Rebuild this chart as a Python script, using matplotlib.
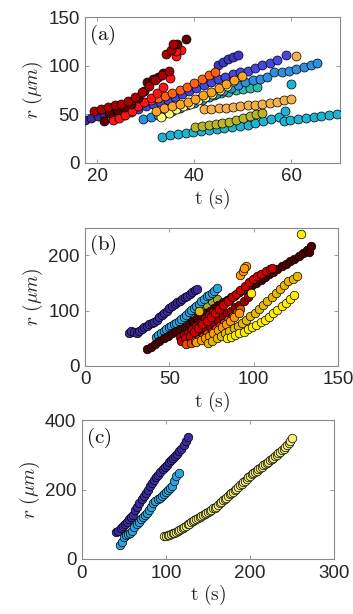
import matplotlib
matplotlib.use("Agg")
import matplotlib.pyplot as plt

plt.rcParams['font.family'] = ['Liberation Sans', 'DejaVu Sans']
plt.rcParams['mathtext.fontset'] = 'cm'

# ---------------- panel (a) ----------------
a_cyan_t = [33.4, 35.0, 36.6, 38.2, 39.8, 41.4, 43.0, 44.6, 46.2, 47.8, 49.4, 51.0, 52.6, 54.2, 55.8, 57.4,
            58.4, 59.8, 61.4, 63.0, 64.6, 66.2, 67.8, 69.4, 58.7, 60.0]
a_cyan_r = [27, 29, 30, 31, 32, 33, 34, 35, 36, 37, 38, 39, 41, 43, 45, 47,
            43, 44, 45, 46, 47, 48, 49, 50, 53, 81]
a_olive_t = [40.2, 41.6, 43.0, 44.4, 45.8, 47.2, 48.6, 50.0, 51.4, 52.8, 54.0]
a_olive_r = [37, 38, 39, 40, 41, 42, 44, 46, 48, 50, 51]
a_lorange_t = [42.0, 43.5, 45.0, 46.5, 48.0, 49.5, 51.0, 52.5, 54.0, 55.5, 57.0, 58.5, 60.0, 61.0]
a_lorange_r = [55, 55, 56, 56, 57, 58, 59, 60, 61, 62, 63, 65, 66, 110]
a_teal_t = [39.5, 41.0, 42.5, 44.0, 45.5, 47.0, 48.5, 50.0, 51.5, 53.0]
a_teal_r = [63, 66, 68, 70, 72, 73, 75, 76, 77, 78]
a_mblue_t = [29.5, 31.0, 32.5, 34.0, 35.5, 37.0, 38.5, 40.0, 41.5, 43.0, 44.5, 46.0, 47.5, 49.0, 50.5, 52.0,
             53.5, 55.0, 56.5, 58.0, 59.5, 61.0, 62.5, 64.0, 65.2]
a_mblue_r = [45, 47, 49, 51, 53, 56, 59, 62, 65, 68, 71, 74, 77, 80, 83, 85,
             86, 88, 93, 94, 95, 97, 99, 101, 103]
a_indigo_t = [17.5, 18.8, 20.1, 21.4, 22.7, 24.0, 25.3]
a_indigo_r = [44, 46, 48, 50, 52, 54, 56]
a_blue_t = [24.0, 25.5, 27.0, 28.5, 30.0, 31.5, 33.0, 34.5, 36.0, 37.5, 39.0, 40.4, 42.0, 43.5, 44.9, 46.4,
            47.9, 49.4, 51.0, 52.5, 54.0, 55.5, 57.0, 58.8]
a_blue_r = [46, 49, 52, 55, 58, 61, 63, 65, 68, 71, 74, 77, 80, 83, 86, 88,
            91, 93, 95, 98, 101, 103, 106, 111]
a_dblue_t = [44.9, 45.9, 46.9, 47.9, 48.9]
a_dblue_r = [101, 104, 107, 109, 111]
a_yellow_t = [33.2, 34.7, 36.2, 37.7, 39.2, 40.7, 42.2, 43.7, 45.2, 46.7, 48.0]
a_yellow_r = [47, 51, 55, 58, 61, 65, 68, 71, 75, 79, 84]
a_orange_t = [32.2, 33.8, 35.4, 37.0, 38.6, 40.2, 41.8, 43.4, 45.0, 46.6, 48.2, 49.8]
a_orange_r = [53, 56, 58, 61, 63, 66, 70, 73, 77, 81, 85, 89]
a_ored_t = [25.0, 26.5, 28.0, 29.5, 31.0, 32.5, 34.0, 35.5, 37.0, 38.5, 40.0, 41.5, 43.0, 44.2]
a_ored_r = [52, 56, 60, 63, 65, 67, 69, 72, 75, 78, 82, 86, 90, 93]
a_red_t = [23.2, 24.5, 25.8, 27.1, 28.4, 29.7, 31.0, 32.3, 33.6, 35.0, 36.3, 37.3, 36.3]
a_red_r = [44, 46, 49, 53, 58, 63, 67, 72, 78, 87, 110, 116, 115]
a_dred_t = [19.4, 20.8, 22.2, 23.6, 25.0, 26.4, 27.8, 29.2, 30.6, 32.0, 33.4, 34.8, 34.2, 35.3, 35.6]
a_dred_r = [53, 55, 57, 59, 61, 64, 68, 73, 79, 85, 90, 95, 112, 116, 122]
a_maroon_t = [21.4, 22.5, 24.0, 25.5, 27.0, 28.3, 29.6, 30.3, 31.5, 32.5, 33.5, 36.5, 38.2]
a_maroon_r = [43, 51, 54, 57, 61, 67, 74, 83, 86, 88, 92, 122, 128]

# ---------------- panel (b) ----------------
b_indigo_t = [26, 27.5, 29, 30.5, 32, 33.5, 35, 36.5, 38, 39.5, 41, 42.5, 44, 45.5, 47, 48.5, 50, 51.5,
              53, 54.5, 56, 57.5, 59, 60.5, 62, 63.5, 65, 66.5]
b_indigo_r = [60, 64, 61, 60, 63, 66, 70, 72, 75, 78, 80, 84, 88, 92, 96, 100, 104, 109,
              113, 116, 118, 121, 124, 127, 131, 134, 137, 139]
b_lblue_t = [42, 43.5, 45, 46.5, 48, 49.5, 51, 52.5, 54, 55.5, 57, 58.5, 60, 61.5, 63, 64.5, 66, 67.5,
             69, 70.5, 72, 73.5, 75, 76.5, 78]
b_lblue_r = [52, 56, 60, 64, 67, 70, 72, 75, 78, 81, 85, 89, 93, 97, 101, 104, 108, 112,
             117, 122, 126, 129, 132, 136, 141]
b_olive_t = [60, 63, 66, 69, 72, 75, 78]
b_olive_r = [88, 95, 101, 106, 111, 117, 122]
b_maroon_t = [36.5, 39, 41.5, 44, 46.5, 49, 51.5, 54, 56.5, 59, 61.5, 64, 66.5, 69, 71.5, 74, 76.5, 79,
              81.5, 84, 86.5, 89, 91.5, 94, 96.5, 99, 101.5, 104, 106.5, 109, 111.5, 114, 116.5, 119,
              121.5, 124, 126.5, 129, 131.5, 134, 132.5]
b_maroon_r = [31, 35, 40, 45, 50, 55, 59, 63, 67, 71, 76, 81, 86, 90, 95, 100, 105, 110,
              115, 119, 124, 128, 133, 137, 142, 146, 151, 156, 161, 166, 170, 175, 180, 185,
              190, 194, 199, 204, 209, 217, 207]
b_dred_t = [59, 61.5, 64, 66.5, 69, 71.5, 74, 76.5, 79, 81.5, 84, 86.5, 89, 91.5, 94, 96.5]
b_dred_r = [44, 48, 53, 58, 63, 68, 73, 78, 84, 89, 95, 100, 106, 111, 117, 124]
b_red2_t = [56, 58.5, 61, 63.5, 66, 68.5, 71, 73.5, 76, 78.5, 81, 83.5, 86, 88.5, 91, 93.5, 96]
b_red2_r = [52, 56, 60, 66, 72, 78, 85, 92, 98, 104, 110, 115, 121, 127, 133, 139, 144]
b_red_t = [57, 59.5, 62, 64.5, 67, 69.5, 72, 74.5, 77, 79.5, 82, 84.5, 87, 89.5, 92, 94.5, 97, 99.5,
           102, 104.5, 107, 109.5, 111]
b_red_r = [46, 50, 55, 61, 68, 75, 82, 89, 96, 103, 110, 117, 124, 131, 138, 145, 152, 158,
           163, 167, 171, 175, 177]
b_ored_t = [60, 62.5, 65, 67.5, 70, 72.5, 75, 77.5, 80, 82.5, 85, 87.5, 90, 92]
b_ored_r = [40, 42, 45, 49, 53, 57, 62, 67, 72, 78, 84, 90, 97, 103]
b_orange_t = [66, 68.5, 71, 73.5, 76, 78.5, 81, 83.5, 86, 88.5, 91, 92, 93.5, 95.5, 94]
b_orange_r = [44, 47, 51, 55, 60, 65, 70, 76, 82, 88, 95, 165, 172, 180, 178]
b_gold_t = [73, 75.5, 78, 80.5, 83, 85.5, 88, 90.5, 93, 95.5, 98, 100.5, 103, 105.5, 108, 110.5,
            113, 115.5, 118, 120.5, 123, 125.5, 67.5]
b_gold_r = [42, 46, 50, 55, 59, 64, 68, 73, 78, 84, 90, 96, 103, 110, 117, 124,
            132, 140, 147, 153, 158, 163, 99]
b_yellow_t = [84, 86.5, 89, 91.5, 94, 96.5, 99, 101.5, 104, 106.5, 109, 111.5, 114, 116.5, 119, 121.5,
              124, 128, 98.5]
b_yellow_r = [50, 53, 56, 59, 62, 66, 70, 74, 79, 84, 89, 95, 101, 108, 114, 121,
              128, 239, 132]

# ---------------- panel (c) ----------------
c_indigo_t = [41, 43.5, 46, 48.5, 51, 53.5, 56, 58.5, 61, 63.5, 66, 68.5, 71, 73.5, 76, 78.5, 81, 83.5,
              86, 88.5, 91, 93.5, 96, 98.5, 101, 103.5, 106, 108.5, 111, 113.5, 116, 118.5, 121, 123.5, 126]
c_indigo_r = [77, 80, 88, 95, 101, 108, 115, 121, 128, 140, 150, 160, 172, 182, 191, 200, 210, 220,
              227, 235, 243, 251, 258, 265, 272, 279, 285, 291, 297, 303, 310, 318, 328, 340, 353]
c_lblue_t = [45, 47.5, 50, 52.5, 55, 57.5, 60, 62.5, 65, 67.5, 70, 72.5, 75, 77.5, 80, 82.5, 85, 87.5,
             90, 92.5, 95, 97.5, 100, 102.5, 105, 107.5, 110, 112.5, 115]
c_lblue_r = [39, 50, 62, 68, 72, 76, 82, 92, 100, 108, 114, 120, 126, 132, 140, 150, 160, 168,
             172, 176, 182, 188, 194, 200, 205, 210, 225, 240, 247]
c_yellow_t = [98, 100, 102, 104, 106, 108, 110, 112, 114, 116, 118, 120, 122, 124, 126, 128, 130, 132,
              134, 136, 138, 140, 142, 144, 146, 148, 150, 152, 154, 156, 158, 160, 162, 164, 166, 168,
              170, 172, 174, 176, 178, 180, 182, 184, 186, 188, 190, 192, 194, 196, 198, 200, 202, 204,
              206, 208, 210, 212, 214, 216, 218, 220, 222, 224, 226, 228, 230, 232, 234, 236, 238, 240,
              242, 244, 246, 248, 250]
c_yellow_r = [65, 67, 68, 69, 72, 75, 76, 78, 81, 83, 86, 89, 92, 95, 100, 102, 106, 110,
              113, 115, 119, 122, 124, 127, 130, 133, 136, 139, 142, 146, 148, 151, 156, 161, 165, 169,
              173, 177, 181, 186, 190, 193, 198, 203, 207, 212, 217, 221, 226, 231, 236, 240, 244, 248,
              251, 254, 258, 262, 266, 270, 274, 277, 281, 285, 288, 292, 296, 300, 305, 309, 314, 318,
              324, 329, 334, 339, 350]

fig = plt.figure(figsize=(3.53, 6.14), dpi=100)
ax_a = fig.add_axes([0.241, 0.735, 0.722, 0.237])
ax_b = fig.add_axes([0.241, 0.404, 0.717, 0.225])
ax_c = fig.add_axes([0.232, 0.0896, 0.714, 0.226])

series_a = [
    (a_cyan_t, a_cyan_r, '#1fb3d2'),
    (a_olive_t, a_olive_r, '#b9b52a'),
    (a_lorange_t, a_lorange_r, '#f6b04a'),
    (a_teal_t, a_teal_r, '#2fbba8'),
    (a_mblue_t, a_mblue_r, '#2c8fe0'),
    (a_indigo_t, a_indigo_r, '#3a2a9e'),
    (a_blue_t, a_blue_r, '#4646e0'),
    (a_dblue_t, a_dblue_r, '#3f34c8'),
    (a_yellow_t, a_yellow_r, '#fbfb7a'),
    (a_orange_t, a_orange_r, '#ffa41f'),
    (a_ored_t, a_ored_r, '#ff5f0f'),
    (a_red_t, a_red_r, '#ff1414'),
    (a_maroon_t, a_maroon_r, '#5e0000'),
    (a_dred_t, a_dred_r, '#a80000'),
]
series_b = [
    (b_indigo_t, b_indigo_r, '#3a2a9e'),
    (b_olive_t, b_olive_r, '#b0a828'),
    (b_lblue_t, b_lblue_r, '#2ca3de'),
    (b_maroon_t, b_maroon_r, '#4a0000'),
    (b_dred_t, b_dred_r, '#9a0000'),
    (b_red2_t, b_red2_r, '#b80000'),
    (b_red_t, b_red_r, '#d00000'),
    (b_ored_t, b_ored_r, '#e85000'),
    (b_orange_t, b_orange_r, '#ff9a00'),
    (b_gold_t, b_gold_r, '#e8b800'),
    (b_yellow_t, b_yellow_r, '#ffee00'),
]
series_c = [
    (c_indigo_t, c_indigo_r, '#3a2a9e'),
    (c_lblue_t, c_lblue_r, '#2ca3de'),
    (c_yellow_t, c_yellow_r, '#f2f07a'),
]

for ax, series, sz in [(ax_a, series_a, 42), (ax_b, series_b, 38), (ax_c, series_c, 38)]:
    for t, r, col in series:
        ax.scatter(t, r, s=sz, c=col, edgecolors='black', linewidths=0.5, zorder=3)

ax_a.set_xlim(17.5, 70)
ax_a.set_ylim(0, 150)
ax_a.set_xticks([20, 40, 60])
ax_a.set_yticks([0, 50, 100, 150])
ax_b.set_xlim(0, 150)
ax_b.set_ylim(0, 250)
ax_b.set_xticks([0, 50, 100, 150])
ax_b.set_yticks([0, 100, 200])
ax_c.set_xlim(0, 300)
ax_c.set_ylim(0, 400)
ax_c.set_xticks([0, 100, 200, 300])
ax_c.set_yticks([0, 200, 400])

for ax, lab in [(ax_a, '(a)'), (ax_b, '(b)'), (ax_c, '(c)')]:
    for sp in ax.spines.values():
        sp.set_color('#8a8a8a')
        sp.set_linewidth(0.8)
    ax.tick_params(direction='in', length=3, width=0.6, color='#8a8a8a',
                   top=True, right=True, labelsize=13.5, labelcolor='#262626', pad=4)
    ax.set_xlabel(r'$\mathrm{t\ (s)}$', fontsize=14, color='#262626', labelpad=1)
    ax.set_ylabel(r'$r\ (\mu m)$', fontsize=14, color='#262626', labelpad=2)
    ax.text(0.015, 0.96, r'$\mathrm{' + lab + '}$', transform=ax.transAxes,
            fontsize=15, va='top', ha='left', color='#111111', zorder=5)

fig.savefig('out.png', dpi=100)
